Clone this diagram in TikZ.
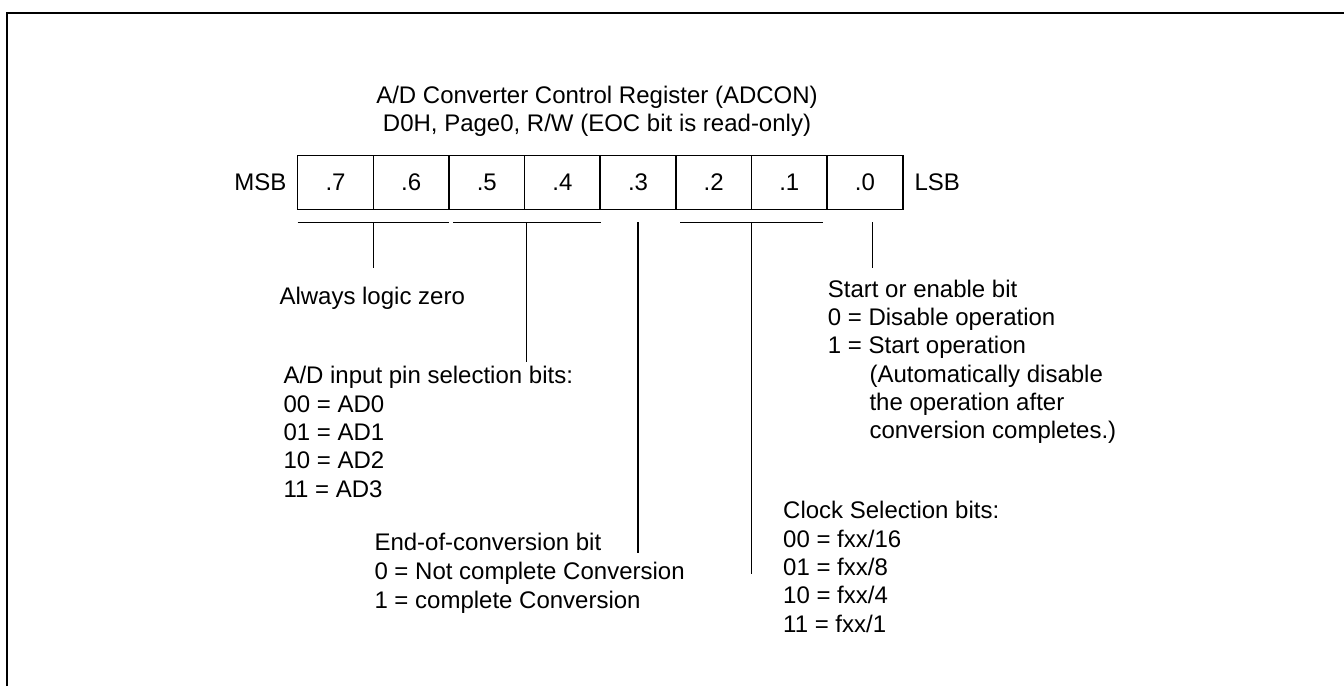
\documentclass[tikz,border=0pt]{standalone}
\usepackage{fontspec}
\setmainfont{Liberation Sans}
\begin{document}
\begin{tikzpicture}[x=1pt,y=-1pt,
  txt/.style={font=\fontsize{24}{28.3}\selectfont, inner sep=0pt, anchor=base west},
  cell/.style={draw, line width=1.5pt, minimum width=75.63pt, minimum height=53.6pt, inner sep=0pt, font=\fontsize{24}{28.3}\selectfont},
  conn/.style={line width=1.4pt},
  frame/.style={line width=2pt}]
\useasboundingbox (0,0) rectangle (1344,686);
\draw[frame] (7,686) -- (7,12.5) -- (1344,12.5);

% title
\node[txt, anchor=base] (t1) at (597,103) {A/D Converter Control Register (ADCON)};
\node[txt, anchor=base] (t2) at (597,131) {D0H, Page0, R/W (EOC bit is read-only)};

% register cells
\foreach \i/\l in {0/7,1/6,2/5,3/4,4/3,5/2,6/1,7/0}{
  \node[cell] (c\l) at ({297.7+75.63*(\i+0.5)},182.5) {.\l};
}
\node[txt, anchor=base east] (msb) at (286.7,190.6) {MSB};
\node[txt] (lsb) at (914.3,190.6) {LSB};

% brackets and leaders
\coordinate (b1l) at (297.7,222.3);
\coordinate (b1r) at (449,222.3);
\coordinate (b1m) at (373.3,222.3);
\coordinate (e1) at (373.3,268.3);
\coordinate (b2l) at (453.3,222.3);
\coordinate (b2r) at (600.7,222.3);
\coordinate (b2m) at (526.7,222.3);
\coordinate (e2) at (526.7,362);
\coordinate (b3m) at (638,222.3);
\coordinate (e3) at (638,552.7);
\coordinate (b4l) at (680,222.3);
\coordinate (b4r) at (823.3,222.3);
\coordinate (b4m) at (751.7,222.3);
\coordinate (e4) at (751.7,574);
\coordinate (b5m) at (872.7,222.3);
\coordinate (e5) at (872.7,268.3);

\draw[conn] (b1l) -- (b1r);
\draw[conn] (b1m) -- (e1);
\draw[conn] (b2l) -- (b2r);
\draw[conn] (b2m) -- (e2);
\draw[conn] (b3m) -- (e3);
\draw[conn] (b4l) -- (b4r);
\draw[conn] (b4m) -- (e4);
\draw[conn] (b5m) -- (e5);

% descriptions
\node[txt] (alw) at (279.3,304) {Always logic zero};

\node[txt] (ad0) at (283.3,383.7) {A/D input pin selection bits:};
\node[txt] (ad1) at (283.3,412) {00 = AD0};
\node[txt] (ad2) at (283.3,440.3) {01 = AD1};
\node[txt] (ad3) at (283.3,468.6) {10 = AD2};
\node[txt] (ad4) at (283.3,497) {11 = AD3};

\node[txt] (eoc0) at (374.3,550.3) {End-of-conversion bit};
\node[txt] (eoc1) at (374.3,579.6) {0 = Not complete Conversion};
\node[txt] (eoc2) at (374.3,608) {1 = complete Conversion};

\node[txt] (st0) at (827.7,297) {Start or enable bit};
\node[txt] (st1) at (827.7,325.3) {0 = Disable operation};
\node[txt] (st2) at (827.7,353.6) {1 = Start operation};
\node[txt] (st3) at (869.3,382) {(Automatically disable};
\node[txt] (st4) at (869.3,410.3) {the operation after};
\node[txt] (st5) at (869.3,438.6) {conversion completes.)};

\node[txt] (ck0) at (783,518.6) {Clock Selection bits:};
\node[txt] (ck1) at (783,547) {00 = fxx/16};
\node[txt] (ck2) at (783,575.3) {01 = fxx/8};
\node[txt] (ck3) at (783,603.6) {10 = fxx/4};
\node[txt] (ck4) at (783,632) {11 = fxx/1};
\end{tikzpicture}
\end{document}
